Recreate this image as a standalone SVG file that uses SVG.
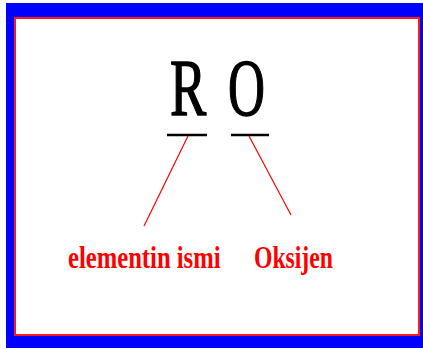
<svg xmlns="http://www.w3.org/2000/svg" width="423" height="349" viewBox="0 0 423 349">
<style>
.sym{font-family:"Liberation Serif","Times New Roman",serif;font-size:80px;fill:#000;stroke:#000;stroke-width:1.4}
.lbl{font-family:"Liberation Serif","Times New Roman",serif;font-size:32px;font-weight:bold;fill:#ff0000}
.bar{stroke:#000;stroke-width:2.5}
.lead{stroke:#ff0000;stroke-width:1.2}
</style>
<rect x="6" y="3" width="417" height="345" fill="#0000ff"/>
<rect x="15" y="18" width="404" height="317" fill="#fff" stroke="#ff1a1a" stroke-width="2"/>
<g id="symbol-R">
<text class="sym" transform="translate(170,115) scale(0.68,1)">R</text>
<line class="bar" x1="167" y1="135" x2="207" y2="135"/>
</g>
<g id="symbol-O">
<text class="sym" transform="translate(228,115) scale(0.64,1)">O</text>
<line class="bar" x1="231" y1="135" x2="269" y2="135"/>
</g>
<g id="label-element">
<text class="lbl" transform="translate(68,268) scale(0.77,1)">elementin ismi</text>
</g>
<g id="label-oxygen">
<text class="lbl" transform="translate(254,268) scale(0.74,1)">Oksijen</text>
</g>
<g id="connectors">
<line class="lead" x1="188" y1="136" x2="144" y2="226"/>
<line class="lead" x1="249" y1="136" x2="291" y2="215"/>
</g>
</svg>
